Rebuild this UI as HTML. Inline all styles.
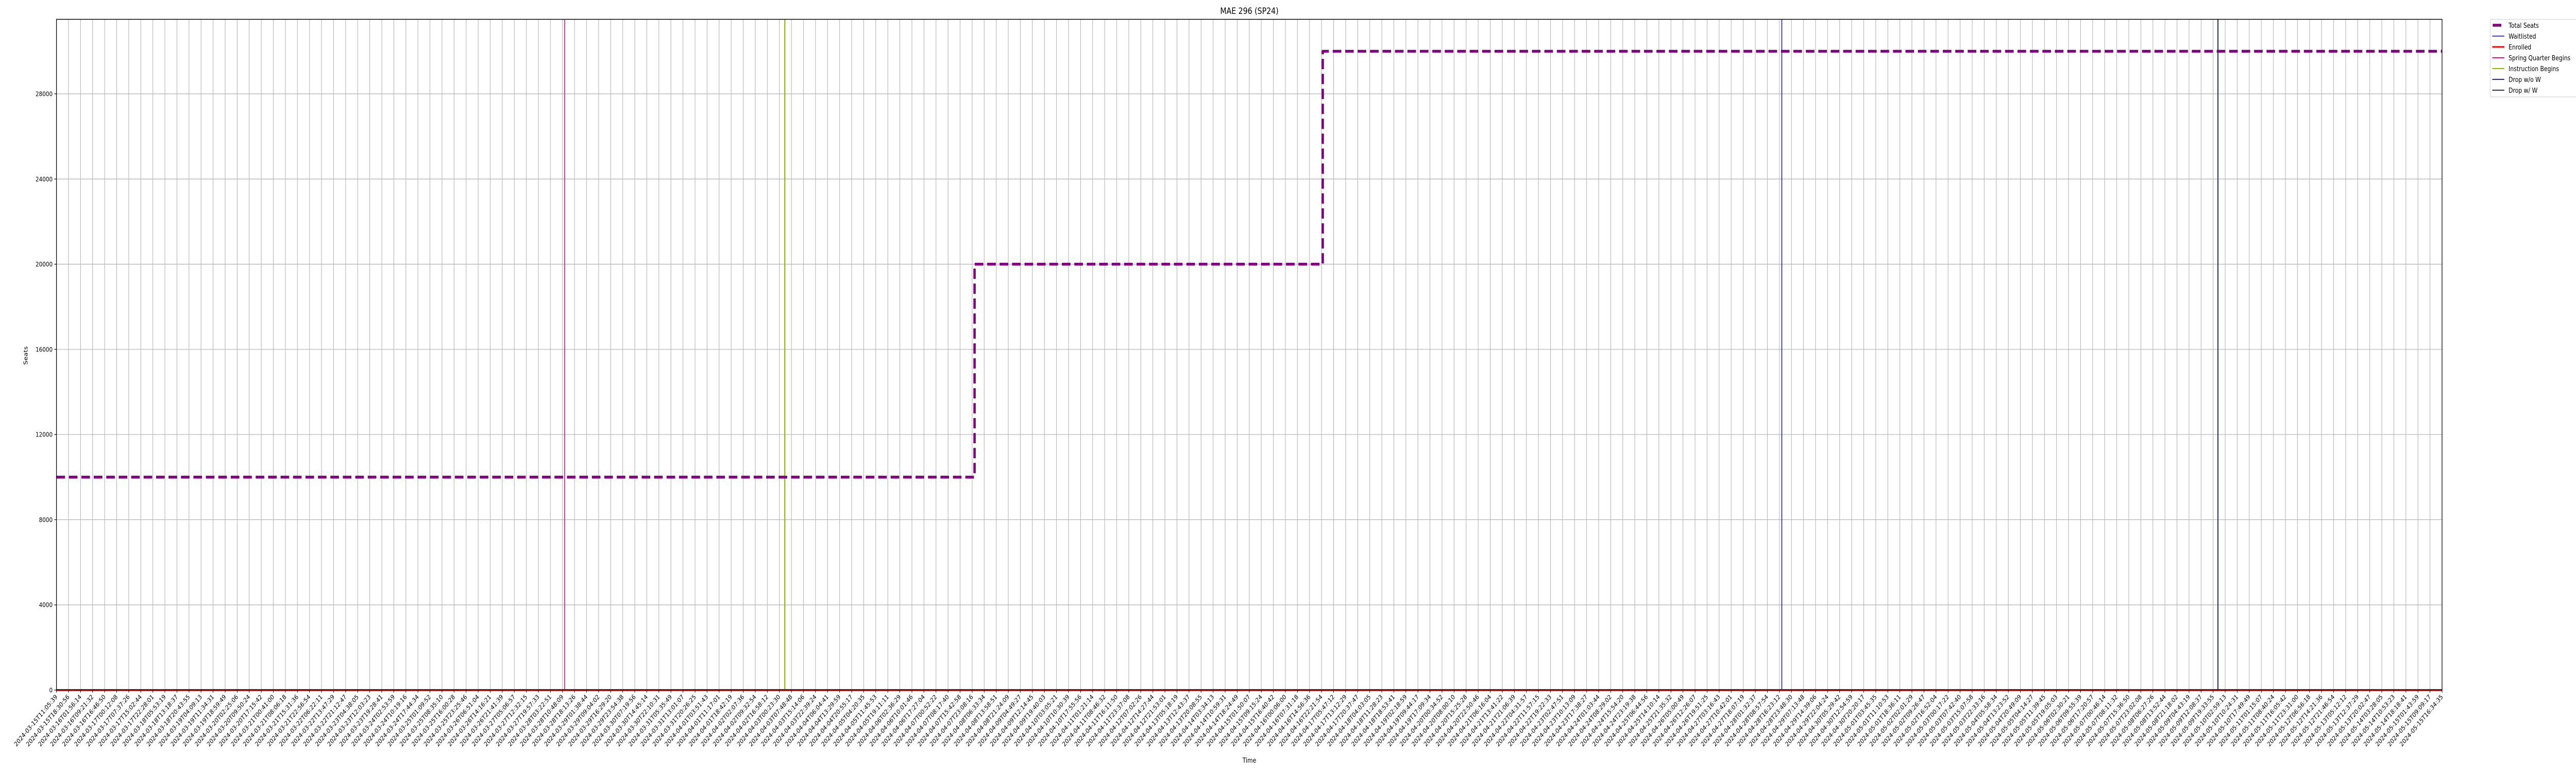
<!DOCTYPE html>
<html><head><meta charset="utf-8">
<style>
html,body{margin:0;padding:0;background:#fff;overflow:hidden;width:100%;height:100%;}
svg{display:block;font-family:"DejaVu Sans","Liberation Sans",sans-serif;width:100vw;height:100vh;}
</style></head>
<body>
<svg id="chart" viewBox="0 0 6000 1500" preserveAspectRatio="none" xmlns="http://www.w3.org/2000/svg">
<rect x="0" y="0" width="6000" height="1500" fill="#fff"/>
<text x="2910" y="27" font-size="17" text-anchor="middle" fill="#000">MAE 296 (SP24)</text>
<text x="2910" y="1480" font-size="13" text-anchor="middle" fill="#000">Time</text>
<text x="64" y="690" font-size="13" text-anchor="middle" fill="#000" transform="rotate(-90 64 690)">Seats</text>
<g id="grid"></g>
<g id="series"></g>
<g id="axes"></g>
<g id="legend"></g>
</svg>
<script>
// ---- data ----
const tickCount = 199;
const startTime = "2024-03-15T11:05:39";
const endTime = "2024-05-15T16:34:35";
const yTicks = [0, 4000, 8000, 12000, 16000, 20000, 24000, 28000];
const seatIdx = [0, 76.2, 105.1, 198];
const seatVals = [10000, 20000, 30000, 30000];
const enrolledIdx = [0, 198];
const enrolledVals = [0, 0];
const waitIdx = [0, 198];
const waitVals = [0, 0];
const eventNames = ["Spring Quarter Begins", "Instruction Begins", "Drop w/o W", "Drop w/ W"];
const eventIdx = [42.17, 60.45, 143.2, 179.4];

// ---- layout ----
const L = 131.5, R = 5688, T = 37.5, B = 1339;
const yMax = 31500, xMaxIdx = 198;
const NS = "http://www.w3.org/2000/svg";
const xS = i => L + (i / xMaxIdx) * (R - L);
const yS = v => B - (v / yMax) * (B - T);
function mk(tag, attrs, parent) {
  const e = document.createElementNS(NS, tag);
  for (const k in attrs) e.setAttribute(k, attrs[k]);
  parent.appendChild(e);
  return e;
}
const grid = document.getElementById('grid');
const series = document.getElementById('series');
const axes = document.getElementById('axes');
const legend = document.getElementById('legend');

function pad(n){return String(n).padStart(2,'0');}
function fmt(ms){const d=new Date(ms);return d.getUTCFullYear()+"-"+pad(d.getUTCMonth()+1)+"-"+pad(d.getUTCDate())+"T"+pad(d.getUTCHours())+":"+pad(d.getUTCMinutes())+":"+pad(d.getUTCSeconds());}
const t0 = Date.parse(startTime+"Z"), t1 = Date.parse(endTime+"Z");

for (let i = 0; i < tickCount; i++) {
  const x = xS(i);
  const g = mk('line', {x1:x, x2:x, y1:T, y2:B, stroke:'#b0b0b0', 'stroke-width':1.2}, grid);
  
  
  const tk = mk('line', {x1:x, x2:x, y1:B, y2:B+5, stroke:'#000', 'stroke-width':1.2}, axes);
  
  
  const lbl = fmt(t0 + (t1 - t0) * i / (tickCount - 1));
  const tx = mk('text', {x:x+3, y:B+14, 'font-size':12.5, 'text-anchor':'end', fill:'#000', transform:'rotate(-45 '+(x+3)+' '+(B+14)+')'}, axes);
  tx.textContent = lbl;
  
  
}
for (const v of yTicks) {
  const y = yS(v);
  const g = mk('line', {x1:L, x2:R, y1:y, y2:y, stroke:'#b0b0b0', 'stroke-width':1.2}, grid);
  
  
  const tk = mk('line', {x1:L-5, x2:L, y1:y, y2:y, stroke:'#000', 'stroke-width':1.2}, axes);
  
  
  const tx = mk('text', {x:L-9, y:y+4.5, 'font-size':12.5, 'text-anchor':'end', fill:'#000'}, axes);
  tx.textContent = String(v);
  
  
}

function stepPath(idx, vals){
  let d = 'M' + xS(idx[0]) + ' ' + yS(vals[0]);
  for (let i = 1; i < idx.length; i++) {
    d += ' L' + xS(idx[i]) + ' ' + yS(vals[i-1]) + ' L' + xS(idx[i]) + ' ' + yS(vals[i]);
  }
  return d;
}
const eventColors = ['#e7128f', '#8db600', '#2b2b8f', '#2b3555'];
const eventWidths = [2, 2.5, 2, 2.5];
for (let k = 0; k < eventIdx.length; k++) {
  const x = xS(eventIdx[k]);
  const ln = mk('line', {x1:x, x2:x, y1:T, y2:B, stroke:eventColors[k], 'stroke-width':eventWidths[k]}, series);
  
  
}
const wp = mk('path', {d:stepPath(waitIdx, waitVals), stroke:'#0000ff', 'stroke-width':2, fill:'none'}, series);


const ep = mk('path', {d:stepPath(enrolledIdx, enrolledVals), stroke:'#ff0000', 'stroke-width':3.5, fill:'none'}, series);


const sp = mk('path', {d:stepPath(seatIdx, seatVals), stroke:'#800080', 'stroke-width':5.5, fill:'none', 'stroke-dasharray':'20 9', 'stroke-linejoin':'round'}, series);



const fr = mk('rect', {x:L, y:T, width:R-L, height:B-T, fill:'none', stroke:'#000', 'stroke-width':1.5}, axes);



const lb = mk('rect', {x:5800, y:37.5, width:215, height:150.5, rx:3, fill:'#fff', stroke:'#d6d6d6', 'stroke-width':1.2}, legend);


const legNames = ['Total Seats', 'Waitlisted', 'Enrolled', 'Spring Quarter Begins', 'Instruction Begins', 'Drop w/o W', 'Drop w/ W'];
const legColors = ['#800080', '#0000ff', '#ff0000', '#e7128f', '#8db600', '#2b2b8f', '#2b3555'];
const legWidths = [5.5, 1.5, 3, 2, 2, 2, 2];
for (let k = 0; k < legNames.length; k++) {
  const y = 49 + k * 21;
  const g = mk('g', {}, legend);
  
  
  if (k === 0) mk('line', {x1:5806, x2:5826, y1:y, y2:y, stroke:legColors[k], 'stroke-width':legWidths[k]}, g);
  else mk('line', {x1:5805, x2:5833, y1:y, y2:y, stroke:legColors[k], 'stroke-width':legWidths[k]}, g);
  const t = mk('text', {x:5843, y:y+5, 'font-size':13, fill:'#000'}, g);
  t.textContent = legNames[k];
}
</script>
</body></html>
